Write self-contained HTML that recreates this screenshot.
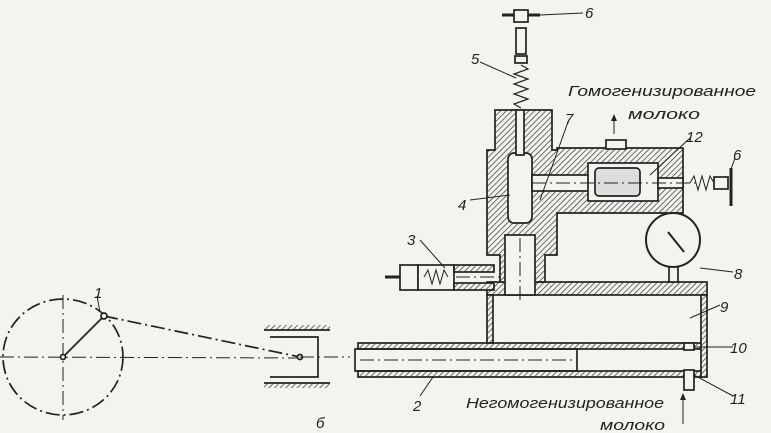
<!DOCTYPE html>
<html><head><meta charset="utf-8"><style>
html,body{margin:0;padding:0;background:#f3f3ef}
svg{display:block}
text{font-family:"Liberation Sans","DejaVu Sans",sans-serif;font-style:italic;fill:#222;font-weight:500}
</style></head><body>
<svg width="771" height="433" viewBox="0 0 771 433" xmlns="http://www.w3.org/2000/svg">
<defs>
<pattern id="h" width="4" height="4" patternUnits="userSpaceOnUse" patternTransform="rotate(45)">
<rect width="4" height="4" fill="#f3f3ef"/><line x1="0" y1="0" x2="0" y2="4" stroke="#333" stroke-width="1.4"/>
</pattern>
</defs>
<g stroke="#222" stroke-width="1.7" fill="none">
<ellipse cx="63" cy="357" rx="60" ry="58" stroke-dasharray="14,4,2,4"/>
<line x1="0" y1="357" x2="300" y2="358" stroke-dasharray="14,4,2,4" stroke-width="1"/>
<line x1="63" y1="295" x2="63" y2="420" stroke-dasharray="14,4,2,4" stroke-width="1"/>
<line x1="63" y1="357" x2="104" y2="316"/>
<line x1="104" y1="316" x2="300" y2="357" stroke-dasharray="14,4,2,4"/>
<circle cx="104" cy="316" r="3" fill="#f3f3ef"/>
<circle cx="63" cy="357" r="2.5" fill="#f3f3ef"/>
<circle cx="300" cy="357" r="2.5" fill="#f3f3ef"/>
<line x1="97" y1="296" x2="100" y2="312" stroke-width="1"/>
<rect x="264" y="325" width="66" height="5" fill="url(#h)" stroke="none"/>
<line x1="264" y1="330" x2="330" y2="330"/>
<rect x="264" y="383" width="66" height="5" fill="url(#h)" stroke="none"/>
<line x1="264" y1="383" x2="330" y2="383"/>
<polyline points="270,337 318,337 318,377 270,377"/>
<line x1="300" y1="357" x2="350" y2="357" stroke-dasharray="14,4,2,4" stroke-width="1"/>
<rect x="358" y="343" width="345" height="6" fill="url(#h)"/>
<rect x="358" y="371" width="345" height="6" fill="url(#h)"/>
<rect x="355" y="349" width="222" height="22"/>
<line x1="360" y1="360" x2="577" y2="360" stroke-dasharray="14,4,2,4" stroke-width="1"/>
<rect x="487" y="282" width="220" height="13" fill="url(#h)"/>
<rect x="487" y="295" width="6" height="48" fill="url(#h)"/>
<rect x="701" y="295" width="6" height="82" fill="url(#h)"/>
<rect x="684" y="343" width="10" height="7" fill="#f3f3ef"/>
<rect x="684" y="370" width="10" height="20" fill="#f3f3ef"/>
<rect x="400" y="265" width="18" height="25" fill="#f3f3ef"/>
<rect x="418" y="265" width="36" height="25" fill="#f3f3ef"/>
<rect x="454" y="265" width="40" height="7" fill="url(#h)"/>
<rect x="454" y="283" width="40" height="7" fill="url(#h)"/>
<line x1="385" y1="277" x2="400" y2="277" stroke-width="3"/>
<polyline points="424,277 428,270 432,284 436,270 440,284 444,270 448,277" stroke-width="1"/>
<line x1="456" y1="277" x2="505" y2="277" stroke-dasharray="14,4,2,4" stroke-width="1"/>
<path d="M487 150 L495 150 L495 110 L552 110 L552 150 L557 150 L557 148 L683 148 L683 213 L557 213 L557 255 L545 255 L545 282 L500 282 L500 255 L487 255 Z" fill="url(#h)"/>
<rect x="505" y="235" width="30" height="60" fill="#f3f3ef"/>
<line x1="520" y1="238" x2="520" y2="300" stroke-dasharray="14,4,2,4" stroke-width="1"/>
<rect x="508" y="153" width="24" height="70" rx="6" fill="#f3f3ef"/>
<rect x="516" y="110" width="8" height="45" fill="#f3f3ef"/>
<rect x="532" y="175" width="70" height="16" fill="#f3f3ef"/>
<rect x="588" y="163" width="70" height="38" fill="#f3f3ef"/>
<rect x="595" y="168" width="45" height="28" rx="4" fill="#ddd"/>
<rect x="658" y="178" width="25" height="10" fill="#f3f3ef"/>
<rect x="606" y="140" width="20" height="9" fill="#f3f3ef"/>
<line x1="532" y1="183" x2="700" y2="183" stroke-dasharray="14,4,2,4" stroke-width="1"/>
<polyline points="690,183 694,176 698,190 702,176 706,190 710,176 714,183" stroke-width="1"/>
<rect x="714" y="177" width="14" height="12" fill="#f3f3ef"/>
<line x1="731" y1="168" x2="731" y2="206" stroke-width="3"/>
<polyline points="521,108 514,104 528,99 514,94 528,89 514,84 528,79 514,74 528,69 521,65" stroke-width="1.2"/>
<rect x="515" y="56" width="12" height="7" fill="#f3f3ef"/>
<rect x="516" y="28" width="10" height="26" fill="#f3f3ef"/>
<line x1="502" y1="15" x2="540" y2="15" stroke-width="3"/>
<rect x="514" y="10" width="14" height="12" fill="#f3f3ef"/>
<circle cx="673" cy="240" r="27" fill="#f3f3ef" stroke-width="2"/>
<line x1="668" y1="232" x2="684" y2="252" stroke-width="2"/>
<rect x="669" y="267" width="9" height="15" fill="#f3f3ef"/>
<line x1="540" y1="15" x2="583" y2="13" stroke-width="1"/>
<line x1="480" y1="62" x2="516" y2="78" stroke-width="1"/>
<line x1="568" y1="122" x2="540" y2="200" stroke-width="1"/>
<line x1="690" y1="138" x2="650" y2="175" stroke-width="1"/>
<line x1="735" y1="158" x2="730" y2="172" stroke-width="1"/>
<line x1="470" y1="200" x2="510" y2="195" stroke-width="1"/>
<line x1="420" y1="240" x2="445" y2="268" stroke-width="1"/>
<line x1="700" y1="268" x2="733" y2="272" stroke-width="1"/>
<line x1="690" y1="318" x2="720" y2="305" stroke-width="1"/>
<line x1="694" y1="347" x2="733" y2="347" stroke-width="1"/>
<line x1="694" y1="375" x2="733" y2="396" stroke-width="1"/>
<line x1="420" y1="396" x2="433" y2="377" stroke-width="1"/>
<line x1="614" y1="134" x2="614" y2="119" stroke-width="1"/>
<line x1="683" y1="424" x2="683" y2="398" stroke-width="1"/>
</g>
<path d="M611 121 L614 114 L617 121 Z M680 400 L683 393 L686 400 Z" fill="#222"/>
<g font-size="15">
<text x="94" y="298">1</text>
<text x="413" y="411">2</text>
<text x="407" y="245">3</text>
<text x="458" y="210">4</text>
<text x="471" y="64">5</text>
<text x="585" y="18">6</text>
<text x="733" y="160">6</text>
<text x="565" y="124">7</text>
<text x="734" y="279">8</text>
<text x="720" y="312">9</text>
<text x="730" y="353">10</text>
<text x="730" y="404">11</text>
<text x="686" y="142">12</text>
<text x="316" y="428">б</text>
</g>
<g font-size="15">
<text x="568" y="96" textLength="188" lengthAdjust="spacingAndGlyphs">Гомогенизированное</text>
<text x="628" y="119" textLength="72" lengthAdjust="spacingAndGlyphs">молоко</text>
<text x="466" y="408" textLength="198" lengthAdjust="spacingAndGlyphs">Негомогенизированное</text>
<text x="600" y="430" textLength="65" lengthAdjust="spacingAndGlyphs">молоко</text>
</g>
</svg>
</body></html>
